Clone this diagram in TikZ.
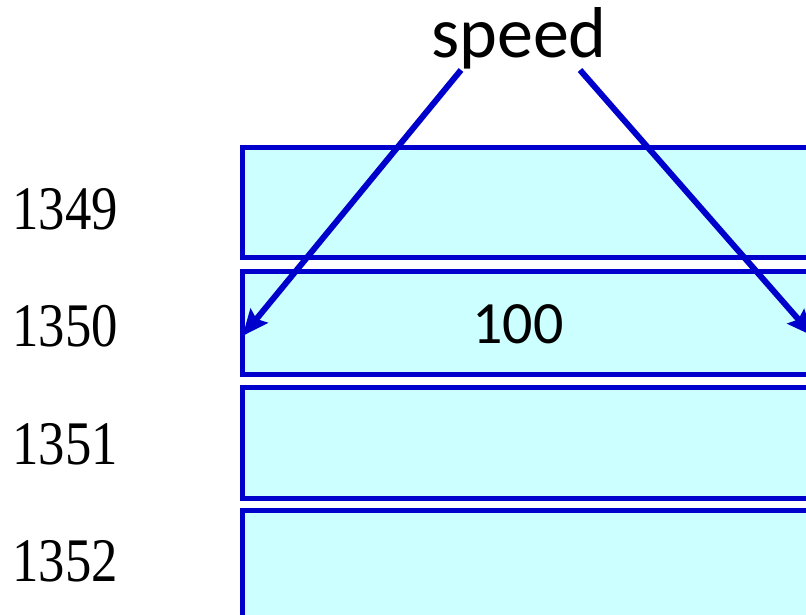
\documentclass[tikz,border=0pt]{standalone}
\usepackage{fontspec}
\setmainfont{Liberation Serif}
\newfontfamily\addrfont[FakeStretch=0.85]{Liberation Serif}
\newfontfamily\calib{Carlito}
\usepackage{xcolor}
\usetikzlibrary{arrows.meta, positioning}
\definecolor{cellblue}{HTML}{0000CC}
\definecolor{cellfill}{HTML}{CCFFFF}

\begin{document}
\begin{tikzpicture}[x=1pt, y=-1pt,
  cell/.style={draw=cellblue, fill=cellfill, line width=5pt, minimum width=600pt, inner sep=0pt, outer sep=0pt},
  addr/.style={font=\addrfont\fontsize{62}{70}\selectfont},
  ptr/.style={draw=cellblue, line width=6pt, -{Stealth[length=26pt, width=22pt, inset=4pt]}}]
\useasboundingbox (0,0) rectangle (806,614);
\clip (0,0) rectangle (806,614);
% memory cells
\node[cell, minimum height=110pt] (c1349) at (542.5,202.5) {};
\node[cell, minimum height=103pt] (c1350) at (542.5,323) {};
\node[cell, minimum height=111pt] (c1351) at (542.5,443) {};
\node[cell, minimum height=120pt] (c1352) at (542.5,570.5) {};
% addresses
\node[addr] (a1349) at (65,209) {1349};
\node[addr] (a1350) at (65,326) {1350};
\node[addr] (a1351) at (65,444) {1351};
\node[addr] (a1352) at (65,561) {1352};
% contents and name
\node[font=\calib\fontsize{60}{70}\selectfont] (v1350) at (518,324) {100};
\node[font=\calib\fontsize{72}{80}\selectfont, anchor=base] (speed) at (519,57) {speed};
\coordinate (spL) at (461,70);
\coordinate (spR) at (580,70);
\coordinate (tipR) at (813,336);
\draw[ptr] (spL) -- ([yshift=-13pt]c1350.west);
\draw[ptr] (spR) -- (tipR);
\end{tikzpicture}
\end{document}
